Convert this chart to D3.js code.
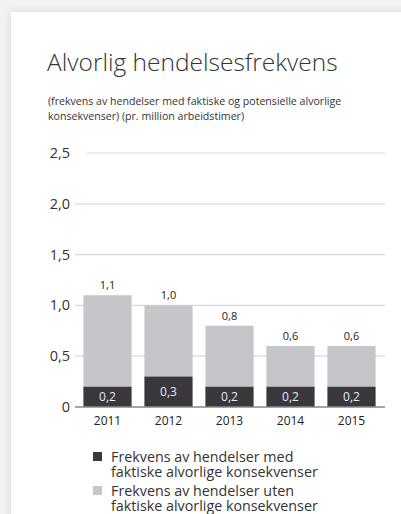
<!DOCTYPE html>
<html>
<head>
<meta charset="utf-8">
<script src="https://cdn.jsdelivr.net/npm/d3@7"></script>
<style>
  html, body { margin: 0; padding: 0; }
  body { width: 401px; height: 514px; background: #f2f2f2; overflow: hidden; position: relative; }
  #card { position: absolute; left: 11px; top: 12px; width: 420px; height: 540px; background: #fff;
          box-shadow: 0 0 10px rgba(0,0,0,0.10); }
  svg { position: absolute; left: 0; top: 0; }
</style>
</head>
<body>
<div id="card"></div>
<div id="chart"></div>
<script>
// chart data
const years = ["2011", "2012", "2013", "2014", "2015"];
const actual = [0.2, 0.3, 0.2, 0.2, 0.2];     // med faktiske alvorlige konsekvenser
const totals = [1.1, 1.0, 0.8, 0.6, 0.6];     // sum of both series
const yTicks = [0, 0.5, 1.0, 1.5, 2.0, 2.5];
const legendLabels = [
  ["Frekvens av hendelser med", "faktiske alvorlige konsekvenser"],
  ["Frekvens av hendelser uten", "faktiske alvorlige konsekvenser"]
];

const W = 401, H = 514;
const font = "'Open Sans', sans-serif";
const dark = "#38383d", light = "#c6c6ca";
const fmt = d => d === 0 ? "0" : d3.format(".1f")(d).replace(".", ",");

let svg = d3.select("#chart").append("svg")
  .attr("width", W)
  .attr("height", H)
  .style("font-family", font);

// title + subtitle
svg.append("text")
  .attr("x", 47).attr("y", 71)
  .attr("font-size", 24.5).attr("font-weight", 300)
  .attr("fill", "#333")
  .text("Alvorlig hendelsesfrekvens");

svg.append("text")
  .attr("x", 48).attr("y", 105)
  .attr("font-size", 10.6).attr("fill", "#333")
  .selectAll("tspan")
  .data(["(frekvens av hendelser med faktiske og potensielle alvorlige",
         "konsekvenser) (pr. million arbeidstimer)"])
  .join("tspan")
  .attr("x", 48).attr("dy", (d, i) => i ? 15 : 0)
  .text(d => d);

let x = d3.scaleBand().domain(years).range([77, 382]).paddingInner(0.21).paddingOuter(0.105);
let y = d3.scaleLinear().domain([0, 2.5]).range([407, 153]);

// grid
let grid = svg.append("g");
grid.selectAll("line")
  .data(yTicks.filter(d => d > 0))
  .join("line")
  .attr("x1", d => d === 2.5 ? 87 : 75).attr("x2", 385)
  .attr("y1", d => y(d)).attr("y2", d => y(d))
  .attr("stroke", "#d9d9d9").attr("stroke-width", 1.2);

grid.selectAll("text")
  .data(yTicks)
  .join("text")
  .attr("x", 70).attr("y", d => y(d) + 5)
  .attr("text-anchor", "end")
  .attr("font-size", 14.5).attr("fill", "#333")
  .text(fmt);

// bars
let bars = svg.append("g");
bars.selectAll(".top")
  .data(years)
  .join("rect")
  .attr("x", d => x(d)).attr("width", x.bandwidth())
  .attr("y", (d, i) => y(totals[i]))
  .attr("height", (d, i) => y(actual[i]) - y(totals[i]))
  .attr("fill", light);

bars.selectAll(".bottom")
  .data(years)
  .join("rect")
  .attr("x", d => x(d)).attr("width", x.bandwidth())
  .attr("y", (d, i) => y(actual[i]))
  .attr("height", (d, i) => y(0) - y(actual[i]))
  .attr("fill", dark);

// baseline
svg.append("line")
  .attr("x1", 75).attr("x2", 385)
  .attr("y1", y(0)).attr("y2", y(0))
  .attr("stroke", "#888").attr("stroke-width", 1.5);

// value labels
svg.append("g").selectAll("text")
  .data(years)
  .join("text")
  .attr("x", d => x(d) + x.bandwidth() / 2)
  .attr("y", (d, i) => y(totals[i]) - 6)
  .attr("text-anchor", "middle").attr("font-size", 11).attr("fill", "#222")
  .text((d, i) => fmt(totals[i]));

svg.append("g").selectAll("text")
  .data(years)
  .join("text")
  .attr("x", d => x(d) + x.bandwidth() / 2)
  .attr("y", (d, i) => (y(actual[i]) + y(0)) / 2 + 4.5)
  .attr("text-anchor", "middle").attr("font-size", 12).attr("fill", "#e8e8e8")
  .text((d, i) => fmt(actual[i]));

// year labels
svg.append("g").selectAll("text")
  .data(years)
  .join("text")
  .attr("x", d => x(d) + x.bandwidth() / 2)
  .attr("y", 425)
  .attr("text-anchor", "middle").attr("font-size", 12).attr("fill", "#222")
  .text(d => d);

// legend
let legend = svg.append("g").selectAll("g")
  .data(legendLabels)
  .join("g")
  .attr("transform", (d, i) => `translate(93, ${452 + i * 34})`);

legend.append("rect")
  .attr("width", 9).attr("height", 9)
  .attr("fill", (d, i) => i ? light : dark);

legend.append("text")
  .attr("x", 18).attr("y", 10)
  .attr("font-size", 14.3).attr("fill", "#333")
  .selectAll("tspan")
  .data(d => d)
  .join("tspan")
  .attr("x", 18).attr("dy", (d, i) => i ? 14.5 : 0)
  .text(d => d);
</script>
</body>
</html>
